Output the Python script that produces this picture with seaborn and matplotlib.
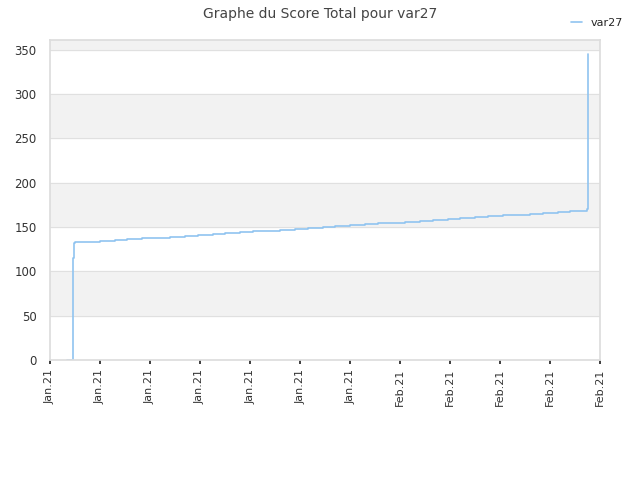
import matplotlib
matplotlib.use("Agg")
import matplotlib.pyplot as plt
import seaborn as sns
import pandas as pd

tick_labels = ["Jan.21"] * 7 + ["Feb.21"] * 5
# x in tick units (0..11), y = total score
x_vals = [0.34, 0.46, 0.47, 0.48, 0.50, 0.75, 1.0, 1.3, 1.55, 1.85, 2.1, 2.4, 2.7, 2.95,
          3.25, 3.5, 3.8, 4.05, 4.35, 4.6, 4.9, 5.15, 5.45, 5.7, 6.0, 6.3, 6.55, 6.85,
          7.1, 7.4, 7.65, 7.95, 8.2, 8.5, 8.75, 9.05, 9.3, 9.6, 9.85, 10.15, 10.4, 10.74, 10.75]
y_vals = [0, 8, 115, 132, 133, 133.5, 134, 135, 136, 137, 138, 139, 140, 141,
          142, 143, 144, 145, 146, 147, 148, 149, 150, 151, 152, 153, 154, 155,
          156, 157, 158, 159, 160, 161, 162, 163, 164, 165, 166, 167, 168, 170, 345]
df = pd.DataFrame({"x": x_vals, "score": y_vals})

sns.set_theme(style="white")
fig, ax = plt.subplots(figsize=(6.4, 4.8), dpi=100)
fig.subplots_adjust(left=0.078, right=0.938, top=0.917, bottom=0.25)

for lo in [50, 150, 250, 350]:
    ax.axhspan(lo, lo + 50, color="#f2f2f2", zorder=0)
ax.grid(axis="y", color="#e0e0e0", lw=0.8)

sns.lineplot(data=df, x="x", y="score", drawstyle="steps-post", color="#90c4f0",
             lw=1.2, ax=ax, label="var27")

ax.set_xlim(0, 11)
ax.set_ylim(0, 361)
ax.set_xticks(range(12))
ax.set_xticklabels(tick_labels, rotation=90, fontsize=8, color="#333333")
ax.set_yticks(range(0, 351, 50))
ax.tick_params(axis="y", labelsize=8.5, colors="#333333")
ax.tick_params(axis="x", length=3, bottom=True)
ax.set_xlabel("")
ax.set_ylabel("")
for s in ax.spines.values():
    s.set_color("#dddddd")

ax.legend(loc="upper right", bbox_to_anchor=(1.06, 1.1), frameon=False, fontsize=8,
          handlelength=1)
fig.suptitle("Graphe du Score Total pour var27", fontsize=10, color="#444444", y=0.985)

fig.savefig("out.png", dpi=100)
